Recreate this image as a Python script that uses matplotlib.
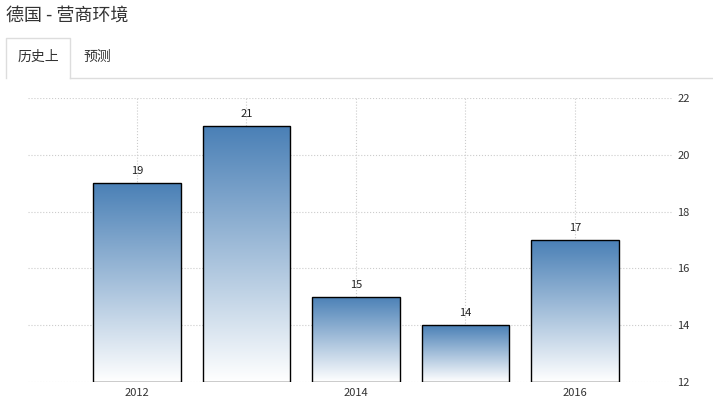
import numpy as np
import matplotlib.pyplot as plt
from matplotlib.patches import Rectangle
from matplotlib.lines import Line2D

plt.rcParams['font.family'] = ['Noto Sans CJK SC', 'DejaVu Sans']

years = [2012, 2013, 2014, 2015, 2016]
values = [19, 21, 15, 14, 17]
xtick_labels = ['2012', '', '2014', '', '2016']
yticks = [12, 14, 16, 18, 20, 22]

W, H = 713, 404
fig = plt.figure(figsize=(W / 100, H / 100), dpi=100)
ax = fig.add_axes([28 / W, 22 / H, (672 - 28) / W, (382 - 98) / H])

x = np.arange(len(years))
ax.set_xlim(-0.995, 4.886)
ax.set_ylim(12, 22)

grad = np.linspace(0, 1, 256).reshape(-1, 1)
cmap = plt.matplotlib.colors.LinearSegmentedColormap.from_list('g', ['#ffffff', '#4a80b6'])
bw = 0.8
for xi, v in zip(x, values):
    im = ax.imshow(grad, extent=[xi - bw / 2, xi + bw / 2, 12, v], origin='lower',
                   aspect='auto', cmap=cmap, zorder=2)
    rect = Rectangle((xi - bw / 2, 12), bw, v - 12, fill=False, edgecolor='black', lw=1, zorder=3)
    ax.add_patch(rect)
    im.set_clip_path(rect)
    ax.text(xi, v + 0.25, str(v), ha='center', va='bottom', fontsize=8, color='#222222')

ax.set_xticks(x)
ax.set_xticklabels(xtick_labels, fontsize=8, color='#333333')
ax.yaxis.tick_right()
ax.set_yticks(yticks)
ax.set_yticklabels([str(t) for t in yticks], fontsize=8, color='#333333')
ax.tick_params(length=0, pad=4)
ax.grid(True, color='#cccccc', linestyle=':', lw=0.8, zorder=0)
for s in ax.spines.values():
    s.set_visible(False)

# title and tabs
fig.text(6 / W, 1 - 16 / H, '德国 - 营商环境', fontsize=13, color='#333333', va='center')
fig.add_artist(Line2D([6 / W, 6 / W, 70 / W, 70 / W], [1 - 78 / H, 1 - 38 / H, 1 - 38 / H, 1 - 78 / H],
                      color='#dddddd', lw=1))
fig.add_artist(Line2D([70 / W, 1], [1 - 78 / H, 1 - 78 / H], color='#dddddd', lw=1))
fig.text(38 / W, 1 - 57 / H, '历史上', fontsize=10, color='#333333', ha='center', va='center')
fig.text(97 / W, 1 - 57 / H, '预测', fontsize=10, color='#333333', ha='center', va='center')

fig.savefig('out.png', dpi=100)
